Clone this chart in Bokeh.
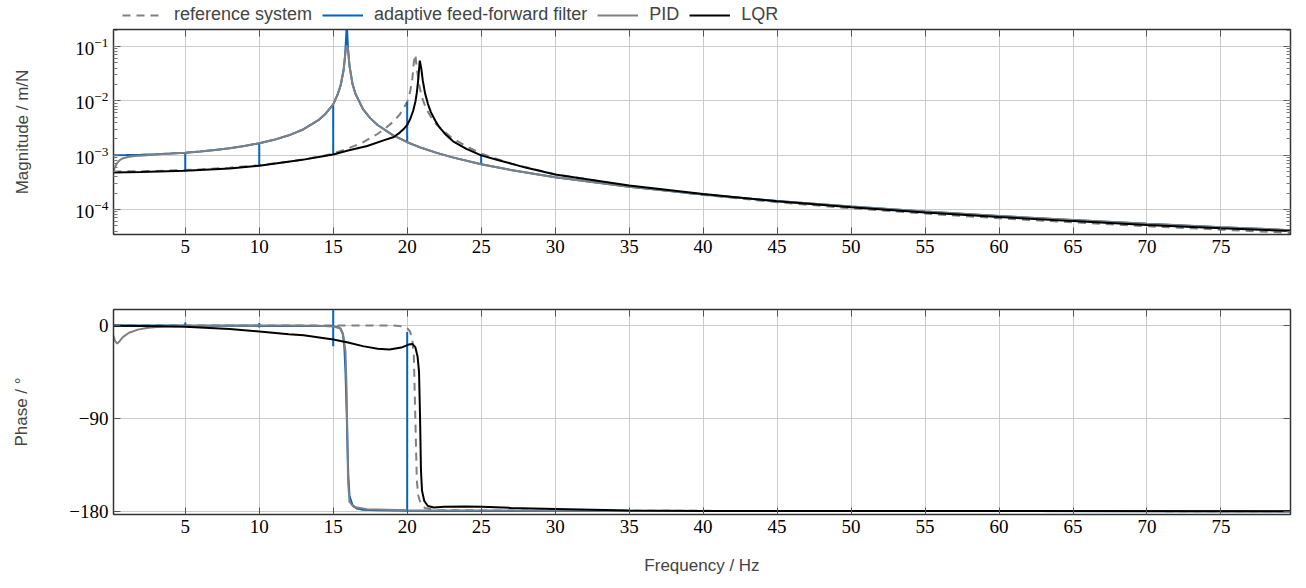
from bokeh.plotting import figure
from bokeh.models import Range1d, FixedTicker, LogTicker, LinearAxis, LogAxis, Legend, LegendItem
from bokeh.layouts import column
from bokeh.embed import file_html
from bokeh.resources import INLINE

# ---------------- data ----------------
# Magnitude, adaptive feed-forward filter (spikes at 5, 10, 15, 20, 25 Hz)
f_adapt_mag = [0.15, 1, 2, 3, 4, 5, 5, 5, 6, 7, 8, 9, 10, 10, 10, 11, 12, 13, 14, 14.5,
               15, 15, 15, 15.3, 15.5, 15.7, 15.8, 15.92, 16.0, 16.1, 16.3, 16.5, 17, 17.5, 18, 19,
               20, 20, 20, 21, 22, 23, 25, 25, 25, 27, 30, 35, 40, 45, 50, 55, 60, 65, 70, 75, 79.7]
mag_adapt = [1.0e-3, 1.004e-3, 1.016e-3, 1.037e-3, 1.067e-3, 1.109e-3, 5.3e-4, 1.109e-3, 1.166e-3,
             1.24e-3, 1.338e-3, 1.47e-3, 1.66e-3, 6.5e-4, 1.66e-3, 1.913e-3, 2.316e-3, 3.0e-3, 4.41e-3,
             5.87e-3, 8.6e-3, 1.05e-3, 8.6e-3, 1.31e-2, 1.92e-2, 3.65e-2, 6.67e-2, 0.25, 9.0e-2,
             4.4e-2, 2.07e-2, 1.35e-2, 7.13e-3, 4.8e-3, 3.59e-3, 2.36e-3, 1.73e-3, 9.5e-3, 1.73e-3,
             1.35e-3, 1.1e-3, 9.2e-4, 6.8e-4, 1.05e-3, 6.8e-4, 5.33e-4, 3.92e-4, 2.61e-4, 1.88e-4,
             1.43e-4, 1.13e-4, 9.14e-5, 7.57e-5, 6.38e-5, 5.45e-5, 4.72e-5, 4.16e-5]

# Magnitude, PID
f_pid_mag = [0.15, 0.25, 0.4, 0.6, 0.8, 1.2, 1.6, 2.2, 3, 4, 5, 6, 7, 8, 9, 10, 11, 12, 13, 14, 14.5,
             15, 15.3, 15.5, 15.7, 15.8, 15.9, 16.0, 16.1, 16.3, 16.5, 17, 17.5, 18, 19, 20, 21, 22,
             23, 25, 27, 30, 35, 40, 45, 50, 55, 60, 65, 70, 75, 79.7]
mag_pid = [5.2e-4, 6.0e-4, 7.2e-4, 8.2e-4, 8.8e-4, 9.35e-4, 9.6e-4, 9.9e-4, 1.03e-3, 1.067e-3,
           1.109e-3, 1.166e-3, 1.24e-3, 1.338e-3, 1.47e-3, 1.66e-3, 1.913e-3, 2.316e-3, 3.0e-3,
           4.41e-3, 5.87e-3, 8.6e-3, 1.31e-2, 1.92e-2, 3.65e-2, 6.67e-2, 1.05e-1, 9.0e-2, 4.4e-2,
           2.07e-2, 1.35e-2, 7.13e-3, 4.8e-3, 3.59e-3, 2.36e-3, 1.73e-3, 1.35e-3, 1.1e-3, 9.2e-4,
           6.8e-4, 5.33e-4, 3.92e-4, 2.61e-4, 1.88e-4, 1.43e-4, 1.13e-4, 9.14e-5, 7.57e-5, 6.38e-5,
           5.45e-5, 4.72e-5, 4.16e-5]

# Magnitude, reference system
f_ref_mag = [0.15, 2, 4, 6, 8, 10, 12, 13, 14, 15, 16, 17, 18, 18.5, 19, 19.5, 20, 20.2, 20.35,
             20.45, 20.55, 20.65, 20.8, 21, 21.3, 21.7, 22, 23, 24, 25, 27, 30, 35, 40, 45, 50, 55,
             60, 65, 70, 75, 79.7]
mag_ref = [5.0e-4, 5.05e-4, 5.2e-4, 5.47e-4, 5.89e-4, 6.55e-4, 7.59e-4, 8.34e-4, 9.33e-4, 1.07e-3,
           1.33e-3, 1.72e-3, 2.45e-3, 3.1e-3, 4.0e-3, 5.6e-3, 9.5e-3, 1.48e-2, 2.58e-2, 5.15e-2,
           7.1e-2, 4.0e-2, 2.0e-2, 1.15e-2, 7.0e-3, 4.6e-3, 3.6e-3, 2.1e-3, 1.45e-3, 1.07e-3,
           7.0e-4, 4.45e-4, 2.7e-4, 1.85e-4, 1.36e-4, 1.05e-4, 8.4e-5, 6.9e-5, 5.8e-5, 4.9e-5,
           4.25e-5, 3.7e-5]

# Magnitude, LQR
f_lqr_mag = [0.15, 2, 5, 8, 10, 12.8, 15, 16, 17.3, 18.4, 19.1, 19.5, 19.8, 20, 20.2, 20.4, 20.55,
             20.65, 20.75, 20.85, 20.95, 21.05, 21.2, 21.4, 21.6, 21.9, 22.2, 22.6, 23.1, 24, 25,
             26.3, 28, 30, 35, 40, 45, 50, 55, 60, 65, 70, 75, 79.7]
mag_lqr = [4.8e-4, 4.9e-4, 5.15e-4, 5.7e-4, 6.4e-4, 8.1e-4, 1.03e-3, 1.22e-3, 1.47e-3, 1.87e-3,
           2.16e-3, 2.6e-3, 3.1e-3, 3.6e-3, 4.6e-3, 6.5e-3, 9.5e-3, 1.4e-2, 2.5e-2, 5.5e-2, 4.0e-2,
           2.4e-2, 1.4e-2, 8.8e-3, 6.2e-3, 4.3e-3, 3.2e-3, 2.4e-3, 1.8e-3, 1.3e-3, 9.9e-4, 7.9e-4,
           5.9e-4, 4.4e-4, 2.75e-4, 1.92e-4, 1.42e-4, 1.1e-4, 8.8e-5, 7.25e-5, 6.1e-5, 5.2e-5,
           4.5e-5, 4.0e-5]

# Phase, adaptive feed-forward filter
f_adapt_ph = [0.15, 5, 5, 5, 5, 10, 10, 10, 10, 14.9, 15, 15, 15, 15, 15.3, 15.5, 15.65, 15.75,
              15.83, 15.88, 15.92, 15.96, 16.02, 16.1, 16.3, 16.6, 17, 18, 20, 20, 20, 25, 79.7]
ph_adapt = [0, 0, 3, -1.5, 0, -0.3, 2.5, -2, -0.3, -0.5, -0.6, 20, -20, -1, -1.5, -3, -8, -20,
            -45, -70, -90, -115, -145, -165, -174, -177.5, -178.5, -179.2, -179.5, -6.4, -179.5,
            -179.7, -180]

# Phase, PID
f_pid_ph = [0.15, 0.25, 0.4, 0.55, 0.8, 1.2, 1.8, 2.5, 3.5, 5, 8, 12, 14, 15, 15.45, 15.67, 15.83,
            15.9, 15.95, 16.0, 16.1, 16.4, 17.3, 20, 30, 79.7]
ph_pid = [-10, -15, -17.5, -15.5, -11, -7, -4, -2.2, -1, -0.3, 0, 0, -0.3, -1, -2.6, -9, -25, -60,
          -100, -150, -171, -176, -178, -179, -179.6, -180]

# Phase, reference system
f_ref_ph = [0.15, 10, 19, 19.5, 20, 20.2, 20.35, 20.45, 20.5, 20.55, 20.6, 20.65, 20.75, 20.9,
            21.2, 22, 30, 79.7]
ph_ref = [0, 0, 0, -0.5, -2.5, -6, -14, -30, -60, -90, -120, -150, -165, -172, -177, -179,
          -179.6, -180]

# Phase, LQR
f_lqr_ph = [0.15, 2, 5, 8, 10, 12, 13, 15, 16, 17, 18, 18.8, 19.6, 20.1, 20.35, 20.55, 20.7, 20.8,
            20.87, 20.93, 21.0, 21.15, 21.4, 21.8, 22.5, 24, 25, 27, 30, 35, 40, 79.7]
ph_lqr = [-0.3, -0.5, -1.3, -3.5, -5.8, -8.5, -9.5, -13.6, -16.5, -20, -22.5, -23.3, -21.4, -18.5,
          -18, -21, -30, -45, -90, -140, -160, -170, -175, -176.5, -175.8, -175.5, -175.8, -176.8,
          -177.8, -179.3, -179.7, -180]

x_ticks = [5, 10, 15, 20, 25, 30, 35, 40, 45, 50, 55, 60, 65, 70, 75]
phase_ticks = [0, -90, -180]
phase_labels = {0: "0", -90: "\u221290", -180: "\u2212180"}
series_names = ["reference system", "adaptive feed-forward filter", "PID", "LQR"]

# ---------------- styling ----------------
BLUE = "#0065BD"
GRAY = "#808080"
BLACK = "#000000"
GRID = "#cccccc"
SERIF = "Liberation Serif"
SANS = "Liberation Sans"
DASH = "8 6"
W = 1298
LEFT = 113
RIGHT = 8


def style_axis(ax, labels=True):
    ax.major_tick_in = 7
    ax.major_tick_out = 0
    ax.minor_tick_in = 4
    ax.minor_tick_out = 0
    ax.major_tick_line_color = "#555555"
    ax.minor_tick_line_color = "#777777"
    ax.axis_line_color = "#333333"
    ax.axis_line_width = 1.5
    ax.major_label_text_font = SERIF
    ax.major_label_text_font_size = "19px"
    ax.major_label_text_color = "black"
    ax.axis_label_text_font = SANS
    ax.axis_label_text_font_size = "17px"
    ax.axis_label_text_font_style = "normal"
    if not labels:
        ax.major_label_text_font_size = "0px"
        ax.major_label_text_alpha = 0
        ax.major_label_standoff = 0


styles = [dict(line_color=GRAY, line_dash=DASH), dict(line_color=BLUE),
          dict(line_color=GRAY), dict(line_color=BLACK)]
mag_series = [(f_ref_mag, mag_ref), (f_adapt_mag, mag_adapt), (f_pid_mag, mag_pid),
              (f_lqr_mag, mag_lqr)]
phase_series = [(f_ref_ph, ph_ref), (f_adapt_ph, ph_adapt), (f_pid_ph, ph_pid),
                (f_lqr_ph, ph_lqr)]

# ---------------- legend strip (its ranges show none of the data) ----------------
p0 = figure(width=W, height=25, output_backend="svg", toolbar_location=None,
            x_range=Range1d(-3, -2), y_range=Range1d(-3, -2),
            min_border_left=LEFT, min_border_right=RIGHT, min_border_top=0, min_border_bottom=0)
p0.axis.visible = False
p0.grid.visible = False
p0.outline_line_color = None
items = []
for name, st, (fx, fy) in zip(series_names, styles, mag_series):
    r = p0.line(fx, fy, line_width=2, **st)
    items.append(LegendItem(label=name, renderers=[r]))
legend = Legend(items=items, orientation="horizontal", location=(9, 0), padding=0, margin=0,
                spacing=10, glyph_width=41, glyph_height=18, label_standoff=11, label_height=18,
                label_text_font=SANS, label_text_font_size="18px", border_line_color=None,
                background_fill_alpha=0)
p0.add_layout(legend, "center")

# ---------------- magnitude plot ----------------
p1 = figure(width=W, height=253, y_axis_type="log", output_backend="svg", toolbar_location=None,
            x_range=Range1d(0.15, 79.7), y_range=Range1d(3.46e-5, 0.2056),
            min_border_left=LEFT, min_border_right=RIGHT, min_border_top=4, min_border_bottom=44)
p1.outline_line_color = "black"
p1.outline_line_width = 1
p1.xaxis.ticker = FixedTicker(ticks=x_ticks)
p1.yaxis.ticker = LogTicker(num_minor_ticks=10)
p1.xgrid.ticker = FixedTicker(ticks=x_ticks)
p1.grid.grid_line_color = GRID
p1.grid.grid_line_width = 1
style_axis(p1.xaxis[0])
style_axis(p1.yaxis[0])
p1.xaxis.minor_tick_line_color = None
p1.yaxis.axis_label = "Magnitude / m/N"
p1.yaxis.axis_label_standoff = 40
top1 = LinearAxis(ticker=FixedTicker(ticks=x_ticks))
style_axis(top1, labels=False)
top1.minor_tick_line_color = None
right1 = LogAxis(ticker=LogTicker(num_minor_ticks=10))
style_axis(right1, labels=False)
p1.add_layout(top1, "above")
p1.add_layout(right1, "right")

for st, (fx, fy) in zip(styles, mag_series):
    p1.line(fx, fy, line_width=2, **st)

# ---------------- phase plot ----------------
p2 = figure(width=W, height=310, output_backend="svg", toolbar_location=None,
            x_range=p1.x_range, y_range=Range1d(-183.2, 15.5),
            min_border_left=LEFT, min_border_right=RIGHT, min_border_top=31, min_border_bottom=74)
p2.outline_line_color = "black"
p2.outline_line_width = 1
p2.xaxis.ticker = FixedTicker(ticks=x_ticks)
p2.yaxis.ticker = FixedTicker(ticks=phase_ticks)
p2.yaxis.major_label_overrides = phase_labels
p2.grid.grid_line_color = GRID
p2.grid.grid_line_width = 1
style_axis(p2.xaxis[0])
style_axis(p2.yaxis[0])
p2.xaxis.minor_tick_line_color = None
p2.yaxis.minor_tick_line_color = None
p2.xaxis.axis_label = "Frequency / Hz"
p2.xaxis.axis_label_standoff = 20
p2.yaxis.axis_label = "Phase / \u00b0"
p2.yaxis.axis_label_standoff = 35
top2 = LinearAxis(ticker=FixedTicker(ticks=x_ticks))
style_axis(top2, labels=False)
top2.minor_tick_line_color = None
right2 = LinearAxis(ticker=FixedTicker(ticks=phase_ticks))
style_axis(right2, labels=False)
p2.add_layout(top2, "above")
p2.add_layout(right2, "right")

for st, (fx, fy) in zip(styles, phase_series):
    p2.line(fx, fy, line_width=2, **st)

layout = column(p0, p1, p2, spacing=0)
open("out.html", "w").write(file_html(layout, INLINE))
